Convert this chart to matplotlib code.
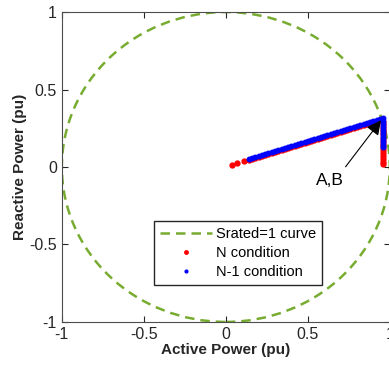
import numpy as np
import matplotlib
matplotlib.use('Agg')
import matplotlib.pyplot as plt
from matplotlib.patches import Circle
from matplotlib.lines import Line2D

plt.rcParams['font.family'] = ['Liberation Sans', 'DejaVu Sans']
plt.rcParams['axes.unicode_minus'] = False

s_rated = 1.0  # apparent power limit (pu)

# N condition operating points (active, reactive power in pu)
p_n = [0.04, 0.07, 0.11, 0.14, 0.16, 0.18, 0.20, 0.22, 0.24, 0.26, 0.28, 0.30,
       0.32, 0.34, 0.36, 0.38, 0.40, 0.42, 0.44, 0.46, 0.48, 0.50, 0.52, 0.54,
       0.56, 0.58, 0.60, 0.62, 0.64, 0.66, 0.68, 0.70, 0.72, 0.74, 0.76, 0.78,
       0.80, 0.82, 0.84, 0.86, 0.88, 0.90, 0.92, 0.94, 0.955,
       0.957, 0.957, 0.957, 0.957, 0.957, 0.957, 0.957, 0.957, 0.957, 0.957,
       0.957, 0.957, 0.957, 0.957, 0.957]
q_n = [0.015, 0.025, 0.037, 0.047, 0.053, 0.060, 0.066, 0.072, 0.079, 0.085, 0.092, 0.098,
       0.104, 0.111, 0.117, 0.123, 0.130, 0.136, 0.143, 0.149, 0.155, 0.162, 0.168, 0.175,
       0.181, 0.187, 0.194, 0.200, 0.206, 0.213, 0.219, 0.226, 0.232, 0.238, 0.245, 0.251,
       0.258, 0.264, 0.270, 0.277, 0.283, 0.289, 0.296, 0.302, 0.307,
       0.29, 0.27, 0.25, 0.23, 0.21, 0.19, 0.17, 0.15, 0.13, 0.11,
       0.09, 0.07, 0.05, 0.03, 0.02]

# N-1 condition operating points
p_n1 = [0.14, 0.16, 0.18, 0.20, 0.22, 0.24, 0.26, 0.28, 0.30, 0.32, 0.34, 0.36,
        0.38, 0.40, 0.42, 0.44, 0.46, 0.48, 0.50, 0.52, 0.54, 0.56, 0.58, 0.60,
        0.62, 0.64, 0.66, 0.68, 0.70, 0.72, 0.74, 0.76, 0.78, 0.80, 0.82, 0.84,
        0.86, 0.88, 0.90, 0.92, 0.94, 0.96,
        0.96, 0.96, 0.96, 0.96, 0.96, 0.96, 0.96, 0.96, 0.96, 0.96]
q_n1 = [0.054, 0.060, 0.067, 0.073, 0.079, 0.086, 0.092, 0.099, 0.105, 0.111, 0.118, 0.124,
        0.130, 0.137, 0.143, 0.150, 0.156, 0.162, 0.169, 0.175, 0.182, 0.188, 0.194, 0.201,
        0.207, 0.213, 0.220, 0.226, 0.233, 0.239, 0.245, 0.252, 0.258, 0.265, 0.271, 0.277,
        0.284, 0.290, 0.296, 0.303, 0.309, 0.315,
        0.30, 0.28, 0.26, 0.24, 0.22, 0.20, 0.18, 0.16, 0.14, 0.13]

ticks = [-1, -0.5, 0, 0.5, 1]
tick_labels = ['-1', '-0.5', '0', '0.5', '1']

green = '#77AC30'
dark = '#262626'
dash = (0, (3.8, 2.4))

fig = plt.figure(figsize=(3.89, 3.65), dpi=100)
ax = fig.add_axes([0.159, 0.118, 0.843, 0.849])

ax.add_patch(Circle((0, 0), s_rated, fill=False, edgecolor=green, lw=1.8, linestyle=dash))
ax.plot(p_n, q_n, '.', color='r', markersize=7, linestyle='none')
ax.plot(p_n1, q_n1, '.', color='b', markersize=6.5, linestyle='none')

ax.annotate('', xy=(0.957, 0.316), xytext=(0.72, -0.013),
            arrowprops=dict(arrowstyle='-|>', color='k', lw=0.8, mutation_scale=22))
ax.text(0.634, -0.084, 'A,B', fontsize=12.5, ha='center', va='center')

ax.set_xlim(-1, 1)
ax.set_ylim(-1, 1)
ax.set_xticks(ticks)
ax.set_xticklabels(tick_labels)
ax.set_yticks(ticks)
ax.set_yticklabels(tick_labels)
ax.tick_params(direction='in', top=True, right=True, labelsize=11.5, colors=dark, length=4)
for s in ax.spines.values():
    s.set_color('#4d4d4d')
    s.set_linewidth(0.8)

ax.set_xlabel('Active Power (pu)', fontsize=11, fontweight='bold', color=dark, labelpad=1)
ax.set_ylabel('Reactive Power (pu)', fontsize=11, fontweight='bold', color=dark, labelpad=2)

handles = [Line2D([], [], color=green, lw=1.8, linestyle=dash),
           Line2D([], [], color='r', marker='.', markersize=5, linestyle='none'),
           Line2D([], [], color='b', marker='.', markersize=4, linestyle='none')]
ax.legend(handles, ['Srated=1 curve', 'N condition', 'N-1 condition'],
          loc='lower left', bbox_to_anchor=(0.28, 0.12), fontsize=10.5, fancybox=False,
          edgecolor=dark, framealpha=1, handlelength=3.6, handletextpad=0.3,
          borderaxespad=0, labelspacing=0.35, borderpad=0.4)

fig.savefig('out.png', dpi=100)
